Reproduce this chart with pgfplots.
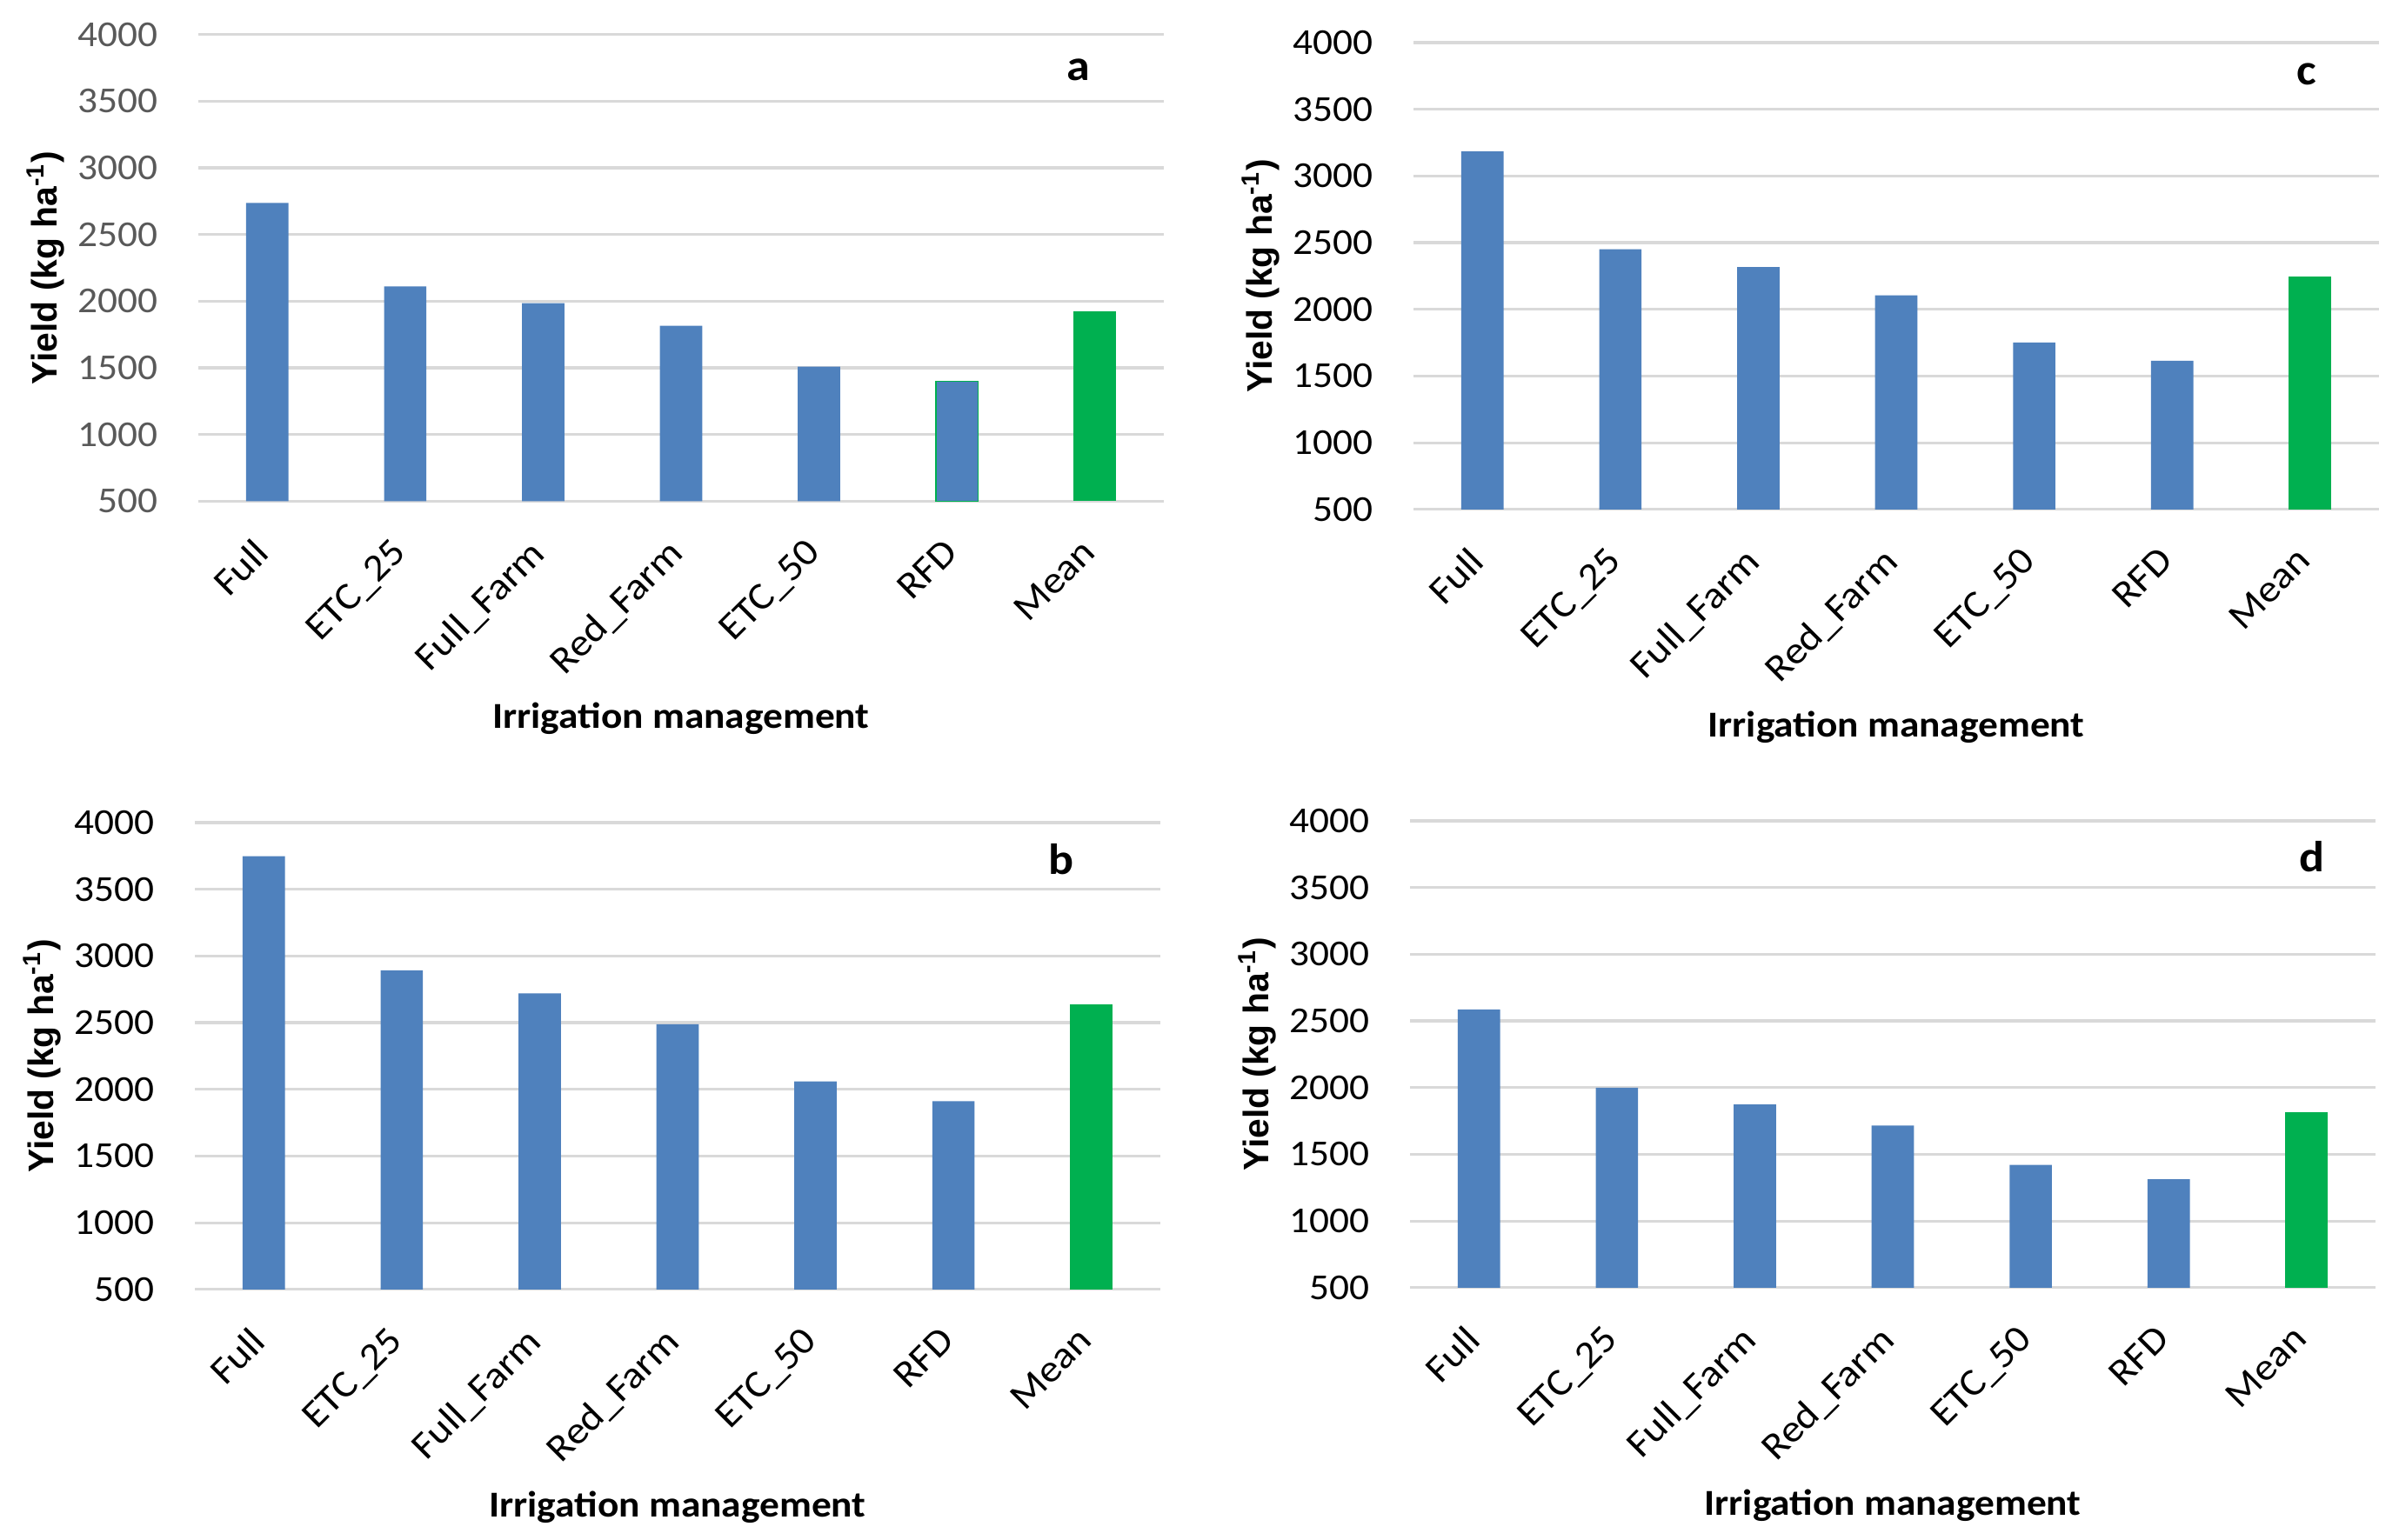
\documentclass[border=0pt]{standalone}
\usepackage{pgfplots}
\pgfplotsset{compat=1.18}
\usepackage{fontspec}
\setmainfont{Carlito}[FakeStretch=1.08]
\newfontfamily\labelfont{Liberation Sans}

\definecolor{barblue}{HTML}{4F81BD}
\definecolor{bargreen}{HTML}{00B050}
\definecolor{gridgray}{HTML}{D9D9D9}
\definecolor{tickgray}{HTML}{595959}

\pgfplotsset{
  panel/.style={
    scale only axis,
    width=277.5pt, height=134.2pt,
    anchor=north west,
    ymin=500, ymax=4000,
    ytick={500,1000,...,4000},
    xmin=-0.5, xmax=6.5,
    xtick={0,...,6},
    xticklabels={Full,ETC\_25,Full\_Farm,Red\_Farm,ETC\_50,RFD,Mean},
    axis line style={draw=none},
    major tick length=0pt,
    ymajorgrids,
    grid style={gridgray, line width=0.8pt},
    ybar,
    /pgf/number format/assume math mode=true,
    /pgf/number format/1000 sep={},
    yticklabel style={font=\fontsize{10.5}{12}\selectfont, anchor=east, inner sep=0pt, xshift=-11.5pt},
    xticklabel style={font=\fontsize{11}{12}\selectfont, xshift=-4.3pt, yshift=-10pt,
      rotate=45, anchor=north east, inner sep=0pt},
    ylabel={\labelfont\bfseries Yield (kg ha\textsuperscript{-1})},
    ylabel style={at={(axis description cs:-0.158,0.5)}, anchor=center,
      font=\fontsize{10.2}{12}\selectfont},
    xlabel={\bfseries Irrigation management},
    xlabel style={at={(axis description cs:0.5,0)}, anchor=center, yshift=-62.5pt,
      font=\fontsize{10.5}{12}\selectfont},
  },
  bars/.style={bar shift=0pt, bar width=0.307, draw=none},
}
\tikzset{letter/.style={font=\fontsize{12.5}{14}\selectfont\bfseries}}

\begin{document}
\begin{tikzpicture}
\useasboundingbox (0,0) rectangle (689.5pt,-442.5pt);

% a
\begin{axis}[panel, at={(57pt,-9.9pt)}, yticklabel style={text=tickgray}]
  \addplot[bars, fill=barblue] coordinates {(0,2736) (1,2110) (2,1985) (3,1815) (4,1509)};
  \addplot[bars, fill=barblue, draw=bargreen, line width=0.4pt] coordinates {(5,1399)};
  \addplot[bars, fill=bargreen] coordinates {(6,1926)};
  \node[letter] at (rel axis cs:0.912,0.925) {a};
\end{axis}

% c
\begin{axis}[panel, at={(406.25pt,-12.25pt)}]
  \addplot[bars, fill=barblue] coordinates {(0,3184) (1,2450) (2,2317) (3,2106) (4,1752) (5,1615)};
  \addplot[bars, fill=bargreen] coordinates {(6,2243)};
  \node[letter] at (rel axis cs:0.925,0.933) {c};
\end{axis}

% b
\begin{axis}[panel, at={(56pt,-236.5pt)}]
  \addplot[bars, fill=barblue] coordinates {(0,3749) (1,2893) (2,2720) (3,2488) (4,2060) (5,1912)};
  \addplot[bars, fill=bargreen] coordinates {(6,2640)};
  \node[letter] at (rel axis cs:0.897,0.922) {b};
\end{axis}

% d
\begin{axis}[panel, at={(405.25pt,-236pt)}]
  \addplot[bars, fill=barblue] coordinates {(0,2586) (1,1999) (2,1874) (3,1715) (4,1420) (5,1313)};
  \addplot[bars, fill=bargreen] coordinates {(6,1815)};
  \node[letter] at (rel axis cs:0.934,0.924) {d};
\end{axis}
\end{tikzpicture}
\end{document}
